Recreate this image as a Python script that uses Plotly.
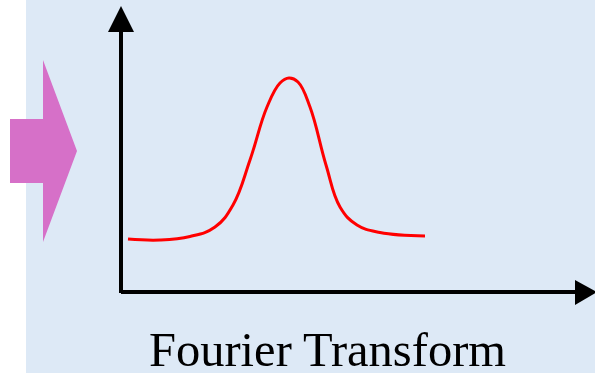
import plotly.graph_objects as go

# red spectrum curve (pixel-like units, y grows downward)
curve_x = [128, 160, 190, 215, 233, 250, 267, 280, 289, 298, 310, 326, 340, 357, 380, 425]
curve_y = [239, 240, 236.5, 227, 205, 160, 107, 83, 78, 82, 107, 165, 207, 225, 232.5, 236]

caption = "Fourier Transform"

W, H = 595, 373
BG = "#DDE9F6"
PINK = "#D670C8"

fig = go.Figure()

fig.add_trace(go.Scatter(x=curve_x, y=curve_y, mode="lines",
                         line=dict(color="#FF0000", width=3, shape="spline", smoothing=1.2),
                         hoverinfo="skip", showlegend=False))

shapes = [
    # light blue panel
    dict(type="rect", x0=26, x1=W, y0=0, y1=H, fillcolor=BG, line_width=0, layer="below"),
    # pink block arrow
    dict(type="path", path="M10,119 L43,119 L43,60 L77,151 L43,242 L43,183 L10,183 Z",
         fillcolor=PINK, line_width=0, layer="below"),
    # axes
    dict(type="line", x0=121, x1=121, y0=293, y1=30, line=dict(color="black", width=4)),
    dict(type="line", x0=121, x1=577, y0=292, y1=292, line=dict(color="black", width=4)),
    # arrow heads
    dict(type="path", path="M108,32 L121,6 L134,32 Z", fillcolor="black", line_width=0),
    dict(type="path", path="M575,280 L597,292 L575,305 Z", fillcolor="black", line_width=0),
]

fig.add_annotation(x=327, y=367, text=caption, showarrow=False, xanchor="center", yanchor="bottom",
                   yshift=-11, font=dict(family="Liberation Serif, Times New Roman, serif",
                                         size=48.5, color="black"))

fig.update_layout(
    width=W, height=H,
    margin=dict(l=0, r=0, t=0, b=0),
    paper_bgcolor="white", plot_bgcolor="white",
    shapes=shapes,
    xaxis=dict(range=[0, W], visible=False, fixedrange=True),
    yaxis=dict(range=[H, 0], visible=False, fixedrange=True),
)

fig.write_html("out.html", config={"displayModeBar": False},
               post_script="document.body.style.margin='0';")
